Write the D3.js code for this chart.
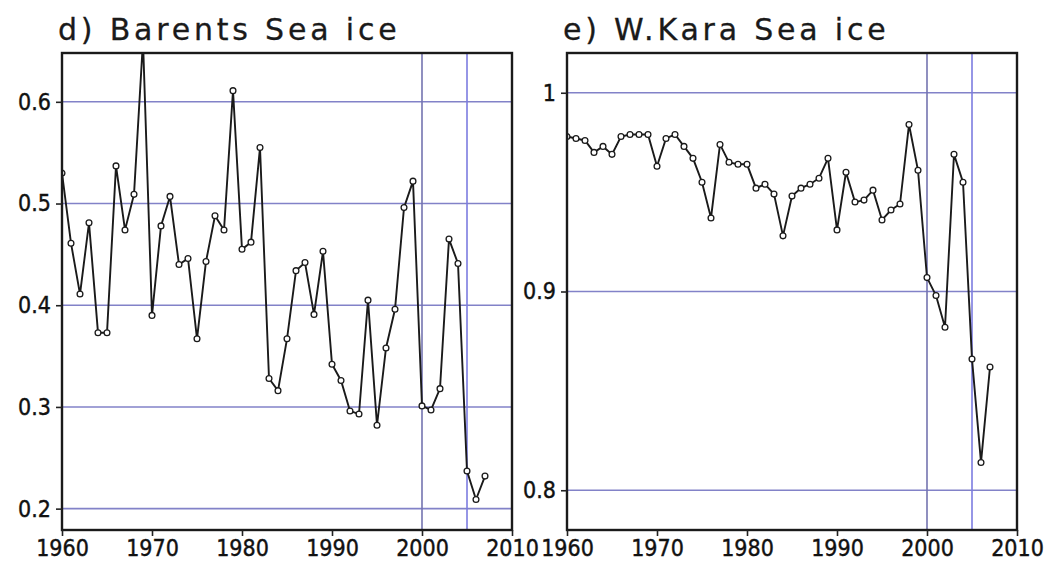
<!DOCTYPE html>
<html>
<head>
<meta charset="utf-8">
<script src="https://cdn.jsdelivr.net/npm/d3@7"></script>
<style>
  body { margin: 0; background: #fff; }
  svg { display: block; }
  .title { font-family: 'DejaVu Sans'; font-size: 30px; letter-spacing: 3.8px; fill: #1a1a1a; stroke: #1a1a1a; stroke-width: 0.3px; }
  .axis text { font-family: 'DejaVu Sans Condensed', 'DejaVu Sans'; font-size: 23px; fill: #111; stroke: #111; stroke-width: 0.4px; }
  .axis path, .axis line { stroke: #222; }
</style>
</head>
<body>
<svg id="chart"></svg>
<script>
const years = d3.range(1960, 2008);

const barents = [
  0.530, 0.461, 0.411, 0.481, 0.373, 0.373, 0.537, 0.474, 0.509, 0.660,
  0.390, 0.478, 0.507, 0.440, 0.446, 0.367, 0.443, 0.488, 0.474, 0.611,
  0.455, 0.462, 0.555, 0.328, 0.316, 0.367, 0.434, 0.442, 0.391, 0.453,
  0.342, 0.326, 0.296, 0.293, 0.405, 0.282, 0.358, 0.396, 0.496, 0.522,
  0.301, 0.297, 0.318, 0.465, 0.441, 0.237, 0.209, 0.232
];

const wkara = [
  0.978, 0.977, 0.976, 0.970, 0.973, 0.969, 0.978, 0.979, 0.979, 0.979,
  0.963, 0.977, 0.979, 0.973, 0.967, 0.955, 0.937, 0.974, 0.965, 0.964,
  0.964, 0.952, 0.954, 0.949, 0.928, 0.948, 0.952, 0.954, 0.957, 0.967,
  0.931, 0.960, 0.945, 0.946, 0.951, 0.936, 0.941, 0.944, 0.984, 0.961,
  0.907, 0.898, 0.882, 0.969, 0.955, 0.866, 0.814, 0.862
];

const xTicks = [1960, 1970, 1980, 1990, 2000, 2010];
const markYears = [2000, 2005];
const barentsTicks = [0.2, 0.3, 0.4, 0.5, 0.6];
const wkaraTicks = [0.8, 0.9, 1];

const svg = d3.select('#chart')
    .attr('width', 1045)
    .attr('height', 568);

function panel(id, left, title, values, domain, yTicks, fmt) {
  const w = 450, h = 477, top = 53;
  const g = svg.append('g')
      .attr('transform', `translate(${left}, ${top})`);

  const x = d3.scaleLinear().domain([1960, 2010]).range([0, w]);
  const y = d3.scaleLinear().domain(domain).range([h, 0]);

  g.append('clipPath')
      .attr('id', id)
    .append('rect')
      .attr('width', w)
      .attr('height', h);

  g.selectAll('.hgrid')
      .data(yTicks)
    .enter().append('line')
      .attr('x1', 0)
      .attr('x2', w)
      .attr('y1', d => y(d))
      .attr('y2', d => y(d))
      .style('stroke', '#8282c8')
      .style('stroke-width', 1.6);

  g.selectAll('.vgrid')
      .data(markYears)
    .enter().append('line')
      .attr('x1', d => x(d))
      .attr('x2', d => x(d))
      .attr('y1', 0)
      .attr('y2', h)
      .style('stroke', (d, i) => i ? '#7c7ce0' : '#7474b0')
      .style('stroke-width', 1.6);

  const data = years.map((yr, i) => ({year: yr, value: values[i]}));

  const line = d3.line()
      .x(d => x(d.year))
      .y(d => y(d.value));

  const plot = g.append('g')
      .attr('clip-path', `url(#${id})`);

  plot.append('path')
      .datum(data)
      .attr('d', line)
      .style('fill', 'none')
      .style('stroke', '#1a1a1a')
      .style('stroke-width', 1.9);

  plot.selectAll('.pt')
      .data(data)
    .enter().append('circle')
      .attr('cx', d => x(d.year))
      .attr('cy', d => y(d.value))
      .attr('r', 2.9)
      .style('fill', '#fff')
      .style('stroke', '#1a1a1a')
      .style('stroke-width', 1.3);

  g.append('rect')
      .attr('width', w)
      .attr('height', h)
      .style('fill', 'none')
      .style('stroke', '#1a1a1a')
      .style('stroke-width', 2.4);

  const xAxis = g.append('g')
      .attr('class', 'axis')
      .attr('transform', `translate(0, ${h})`)
      .call(d3.axisBottom(x).tickValues(xTicks).tickFormat(d3.format('d')).tickSize(6).tickPadding(4));
  xAxis.select('.domain').remove();
  xAxis.selectAll('line').style('stroke-width', 1.6);

  const yAxis = g.append('g')
      .attr('class', 'axis')
      .call(d3.axisLeft(y).tickValues(yTicks).tickFormat(fmt).tickSize(6).tickPadding(5));
  yAxis.select('.domain').remove();
  yAxis.selectAll('line').style('stroke-width', 1.6);

  svg.append('text')
      .attr('class', 'title')
      .attr('x', left - 4)
      .attr('y', 40)
      .text(title);
}

panel('clipd', 62, 'd) Barents Sea ice', barents, [0.179, 0.648], barentsTicks, d3.format('.1f'));
panel('clipe', 567, 'e) W.Kara Sea ice', wkara, [0.780, 1.020], wkaraTicks, d => d === 1 ? '1' : d3.format('.1f')(d));
</script>
</body>
</html>
